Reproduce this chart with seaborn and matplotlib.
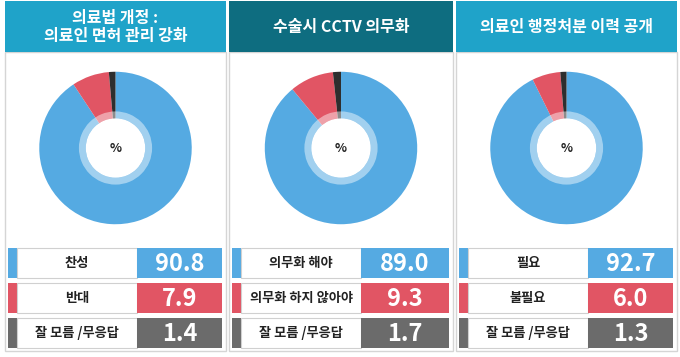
import seaborn as sns
import numpy as np
import matplotlib.pyplot as plt
from matplotlib.patches import Rectangle

# survey data, three panels
titles = ['의료법 개정 :\n의료인 면허 관리 강화', '수술시 CCTV 의무화', '의료인 행정처분 이력 공개']
labels_1 = ['찬성', '반대', '잘 모름 /무응답']
labels_2 = ['의무화 해야', '의무화 하지 않아야', '잘 모름 /무응답']
labels_3 = ['필요', '불필요', '잘 모름 /무응답']
values_1 = [90.8, 7.9, 1.4]
values_2 = [89.0, 9.3, 1.7]
values_3 = [92.7, 6.0, 1.3]

sns.set_theme(style='white')
plt.rcParams['font.family'] = ['Noto Sans CJK KR', 'DejaVu Sans']

W, H = 680, 357
pie_cols = ['#55AAE2', '#E15564', '#2E2E2E']
row_cols = ['#55AAE2', '#E15564', '#6B6B6B']
head_cols = ['#1FA3C9', '#0E6D80', '#1FA3C9']

fig = plt.figure(figsize=(W / 100, H / 100), dpi=100)
bg = fig.add_axes([0, 0, 1, 1])
bg.set_xlim(0, W)
bg.set_ylim(H, 0)
bg.axis('off')

panels = [(5, 226), (229, 453), (456, 677)]
all_labels = [labels_1, labels_2, labels_3]
all_values = [values_1, values_2, values_3]
row_y = [248, 283, 318]
row_h = 30

for i, (x0, x1) in enumerate(panels):
    w = x1 - x0
    # frame + header
    bg.add_patch(Rectangle((x0, 52), w, 299, fc='white', ec='#D5D5D5', lw=1))
    bg.add_patch(Rectangle((x0, 1), w, 51, fc=head_cols[i], ec='none'))
    bg.text((x0 + x1) / 2, 27, titles[i], color='white', fontsize=11.5, fontweight='bold',
            ha='center', va='center', linespacing=1.2)

    # donut
    cx, cy, r = (x0 + x1) / 2, 148, 77
    ax = fig.add_axes([(cx - r) / W, 1 - (cy + r) / H, 2 * r / W, 2 * r / H])
    ax.pie(all_values[i], colors=pie_cols, startangle=90, counterclock=False,
           radius=1, wedgeprops=dict(width=1, linewidth=0))
    ax.pie([1], colors=['white'], radius=0.48, wedgeprops=dict(width=0.09, linewidth=0, alpha=0.45))
    ax.pie([1], colors=['white'], radius=0.39, wedgeprops=dict(linewidth=0))
    ax.text(0, 0, '%', ha='center', va='center', fontsize=9, fontweight='bold', color='#222222')
    ax.set_xlim(-1.01, 1.01)
    ax.set_ylim(-1.01, 1.01)
    ax.axis('off')

    # rows
    for j in range(3):
        y = row_y[j]
        bg.add_patch(Rectangle((x0 + 3, y), 9, row_h, fc=row_cols[j], ec='none'))
        bg.add_patch(Rectangle((x0 + 12, y), 120, row_h, fc='white', ec='#D0D0D0', lw=0.8))
        bg.add_patch(Rectangle((x0 + 132, y), w - 136, row_h, fc=row_cols[j], ec='none'))
        bg.text(x0 + 72, y + row_h / 2, all_labels[i][j], ha='center', va='center',
                fontsize=9.5, fontweight='bold', color='#222222')
        bg.text(x0 + 132 + (w - 136) / 2, y + row_h / 2 + 1, f'{all_values[i][j]:.1f}',
                ha='center', va='center', fontsize=17, fontweight='bold', color='white')

fig.savefig('out.png', dpi=100, facecolor='white')
